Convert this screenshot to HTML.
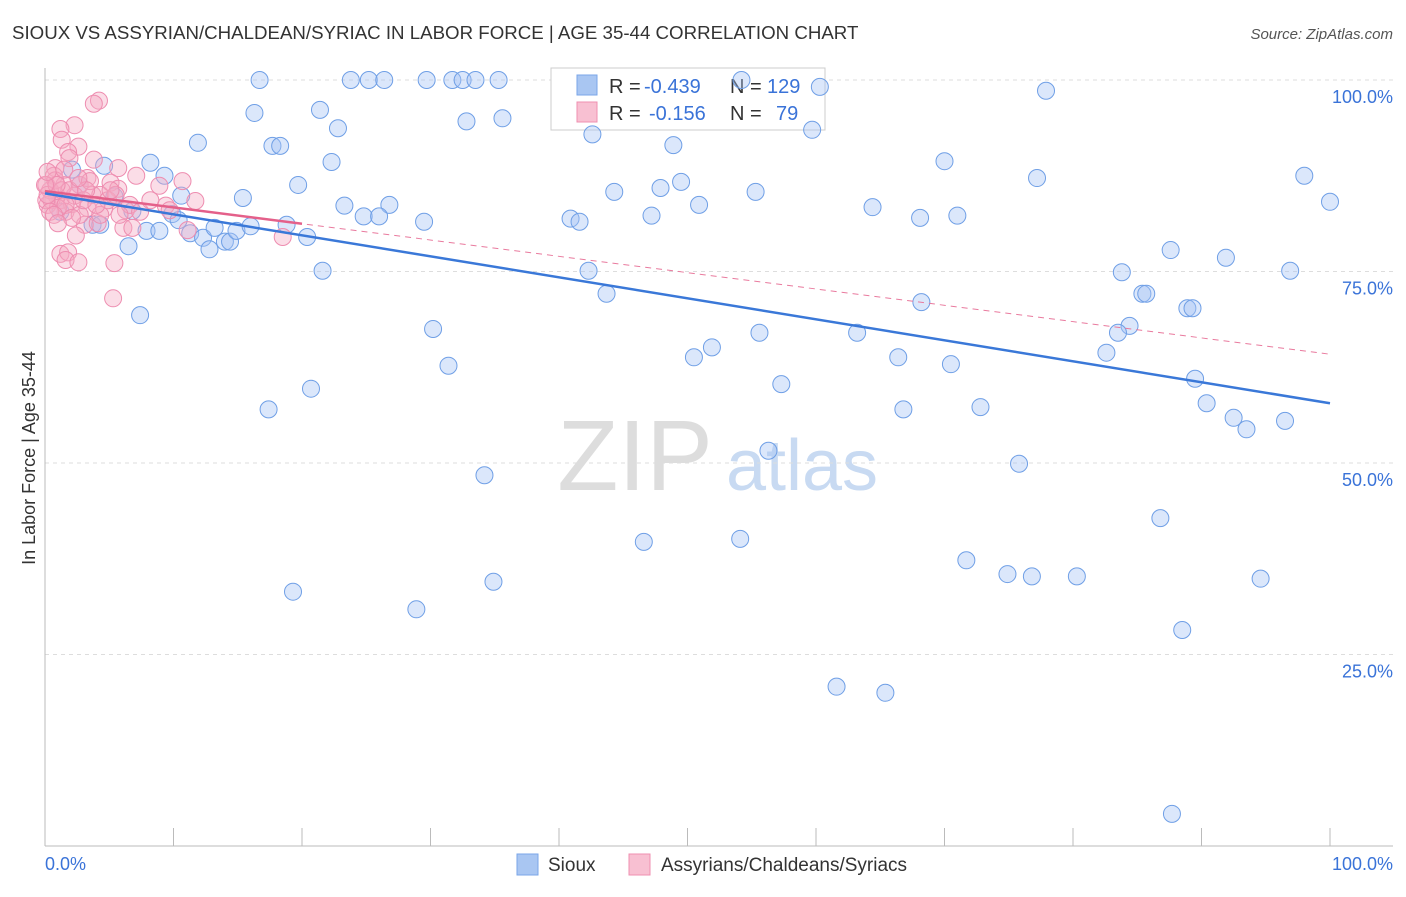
<!DOCTYPE html>
<html><head><meta charset="utf-8"><style>
body{margin:0;background:#fff;font-family:"Liberation Sans",sans-serif;}
svg text{font-family:"Liberation Sans",sans-serif;}
</style></head><body>
<svg id="chart" width="1406" height="892">
<text x="12" y="39" font-size="18.7" fill="#333">SIOUX VS ASSYRIAN/CHALDEAN/SYRIAC IN LABOR FORCE | AGE 35-44 CORRELATION CHART</text>
<text x="1393" y="39" font-size="15" fill="#555" font-style="italic" text-anchor="end">Source: ZipAtlas.com</text>
<text x="35" y="458" font-size="18" fill="#333" transform="rotate(-90 35 458)" text-anchor="middle">In Labor Force | Age 35-44</text>
<g><text x="635" y="490" font-size="100" fill="#ddd" font-family="Liberation Serif" text-anchor="middle">ZIP</text><text x="802" y="490" font-size="72" fill="#c8daf2" text-anchor="middle">atlas</text></g>
<g id="grid"></g>
<g>
<rect x="551" y="68" width="274" height="62" fill="#fff" stroke="#ccc"/>
<rect x="577" y="75" width="20" height="20" fill="#a9c6f2" stroke="#7aa6e8"/>
<rect x="577" y="102" width="20" height="20" fill="#f8c0d2" stroke="#ef8fb0"/>
<text x="609" y="93" font-size="20" fill="#333">R =</text>
<text x="644" y="93" font-size="20" fill="#3a73d8">-0.439</text>
<text x="730" y="93" font-size="20" fill="#333">N =</text>
<text x="767" y="93" font-size="20" fill="#3a73d8">129</text>
<text x="609" y="120" font-size="20" fill="#333">R =</text>
<text x="649" y="120" font-size="20" fill="#3a73d8">-0.156</text>
<text x="730" y="120" font-size="20" fill="#333">N =</text>
<text x="776" y="120" font-size="20" fill="#3a73d8">79</text>
</g>
<g id="pts"></g><g id="trend"></g>
<g>
<rect x="517" y="854" width="21" height="21" fill="#a9c6f2" stroke="#7aa6e8"/>
<text x="548" y="871" font-size="19" fill="#333">Sioux</text>
<rect x="629" y="854" width="21" height="21" fill="#f8c0d2" stroke="#ef8fb0"/>
<text x="661" y="871" font-size="19" fill="#333">Assyrians/Chaldeans/Syriacs</text>
</g>
</svg>
<script>
const blueX=[16.7,23.8,25.2,26.4,29.7,31.7,32.5,33.5,35.3,54.2,60.3,77.9,16.3,21.4,32.8,35.6,22.8,11.9,17.7,18.3,42.6,48.9,59.7,22.3,70.0,8.2,4.6,9.3,19.7,77.2,98.0,44.3,47.9,49.5,55.3,15.4,2.1,5.4,10.6,23.3,26.8,50.9,64.4,100,24.8,26.0,29.5,40.9,41.6,47.2,68.1,71.0,9.9,10.4,6.8,3.7,18.8,7.9,8.9,11.3,12.3,13.2,14.0,14.4,14.9,16.0,20.4,12.8,6.5,87.6,91.9,21.6,42.3,83.8,96.9,43.7,85.4,85.7,68.2,88.9,89.3,7.4,30.2,84.4,83.5,55.6,63.2,51.9,50.5,66.4,82.6,31.4,70.5,20.7,57.3,89.5,17.4,66.8,72.8,90.4,92.5,96.5,93.5,56.3,75.8,34.2,86.8,54.1,46.6,71.7,74.9,76.8,80.3,34.9,94.6,19.3,28.9,88.5,61.6,65.4,87.7,1.2,2.7,4.3];
const blueY=[100,100,100,100,100,100,100,100,100,100,99.1,98.6,95.7,96.1,94.6,95.0,93.7,91.8,91.4,91.4,92.9,91.5,93.5,89.3,89.4,89.2,88.8,87.5,86.3,87.2,87.5,85.4,85.9,86.7,85.4,84.6,88.3,84.8,84.9,83.6,83.7,83.7,83.4,84.1,82.2,82.2,81.5,81.9,81.5,82.3,82.0,82.3,82.5,81.7,82.9,81.1,81.1,80.3,80.3,80.0,79.4,80.7,78.9,78.9,80.3,80.9,79.5,77.9,78.3,77.8,76.8,75.1,75.1,74.9,75.1,72.1,72.1,72.1,71.0,70.2,70.2,69.3,67.5,67.9,67.0,67.0,67.0,65.1,63.8,63.8,64.4,62.7,62.9,59.7,60.3,61.0,57.0,57.0,57.3,57.8,55.9,55.5,54.4,51.6,49.9,48.4,42.8,40.1,39.7,37.3,35.5,35.2,35.2,34.5,34.9,33.2,30.9,28.2,20.8,20.0,4.2,82.8,86.3,81.1];
const pinkX=[4.2,3.8,2.3,1.2,1.3,2.6,1.8,0.8,3.8,1.9,5.7,7.1,0.7,1.5,2.7,3.3,8.9,10.7,5.1,5.7,0.9,1.2,2.1,0.2,1.6,3.3,4.6,6.3,9.4,11.7,3.1,4.1,6.1,6.8,11.1,1.2,1.8,1.6,2.6,5.4,5.3,18.5,0.4,0.5,1.0,0.1,0.1,0.4,2.3,2.7,3.7,4.3,4.9,6.6,7.4,2.4,0.8,1.3,0.2,1.9,0.9,1.6,3.0,5.5,0,0.7,2.1,3.5,4.3,3.2,1.0,5.8,8.2,9.7,1.5,0.2,5.1,2.6,4.0];
const pinkY=[97.3,96.9,94.1,93.6,92.2,91.3,90.6,88.5,89.6,89.8,88.5,87.5,87.5,86.3,86.3,87.2,86.2,86.8,86.6,85.8,84.9,84.3,83.8,83.7,82.8,83.3,83.2,83.0,83.6,84.2,81.1,81.3,80.7,80.7,80.4,77.3,77.5,76.5,76.2,76.1,71.5,79.5,85.6,84.3,83.3,86.3,84.3,82.8,84.9,82.4,85.0,85.0,84.3,83.7,82.8,79.7,86.9,85.6,85.0,85.6,86.3,83.7,84.3,85.0,86.3,82.4,82.0,86.8,82.4,85.6,81.3,82.4,84.3,83.0,88.3,88.0,85.6,87.2,83.7];
const yTicks=[100,75,50,25];
const yTickLabels=["100.0%","75.0%","50.0%","25.0%"];
const xTicks=[0,10,20,30,40,50,60,70,80,90,100];
const trendBlue=[85.2,57.8];
const trendPink=[85.5,64.2];
const NS="http://www.w3.org/2000/svg";
const sx=v=>45+v*12.85, sy=v=>846-v*7.66;
function mk(tag,attrs,parent){const e=document.createElementNS(NS,tag);for(const k in attrs)e.setAttribute(k,attrs[k]);parent.appendChild(e);return e;}
const grid=document.getElementById('grid');
yTicks.forEach((t,i)=>{
 const l=mk('line',{x1:45,x2:1393,y1:sy(t),y2:sy(t),stroke:'#ddd','stroke-dasharray':'4,4'},grid);
 
 
 const tx=mk('text',{x:1393,y:sy(t)+23,'font-size':18,fill:'#3a73d8','text-anchor':'end'},grid);
 tx.textContent=yTickLabels[i];
 
 
});
const ax=mk('line',{x1:45,x2:1393,y1:846,y2:846,stroke:'#bbb'},grid);


const ay=mk('line',{x1:45,x2:45,y1:68,y2:846,stroke:'#bbb'},grid);


xTicks.forEach(t=>{const l=mk('line',{x1:sx(t),x2:sx(t),y1:828,y2:846,stroke:'#bbb'},grid);
 
 });
[[0,'0.0%','start',45],[100,'100.0%','end',1393]].forEach(a=>{const t=mk('text',{x:a[3],y:870,'font-size':18,fill:'#3a73d8','text-anchor':a[2]},grid);t.textContent=a[1];
 
 });
const pts=document.getElementById('pts');
blueX.forEach((x,i)=>{const c=mk('circle',{cx:sx(x),cy:sy(blueY[i]),r:8.5,fill:'rgba(164,194,244,0.4)',stroke:'#6f9fe6','stroke-width':1},pts);
 
 });
pinkX.forEach((x,i)=>{const c=mk('circle',{cx:sx(x),cy:sy(pinkY[i]),r:8.5,fill:'rgba(244,170,195,0.4)',stroke:'#ee8db0','stroke-width':1},pts);
 
 });
const tr=document.getElementById('trend');
const pl=mk('line',{x1:sx(0),y1:sy(trendPink[0]),x2:sx(100),y2:sy(trendPink[1]),stroke:'#e97a9e','stroke-width':1,'stroke-dasharray':'6,5'},tr);


const f=20/100;
const ps=mk('line',{x1:sx(0),y1:sy(trendPink[0]),x2:sx(20),y2:sy(trendPink[0]+(trendPink[1]-trendPink[0])*f),stroke:'#e4608a','stroke-width':2.5},tr);


const bl=mk('line',{x1:sx(0),y1:sy(trendBlue[0]),x2:sx(100),y2:sy(trendBlue[1]),stroke:'#3a78d8','stroke-width':2.5},tr);


</script>
</body></html>
